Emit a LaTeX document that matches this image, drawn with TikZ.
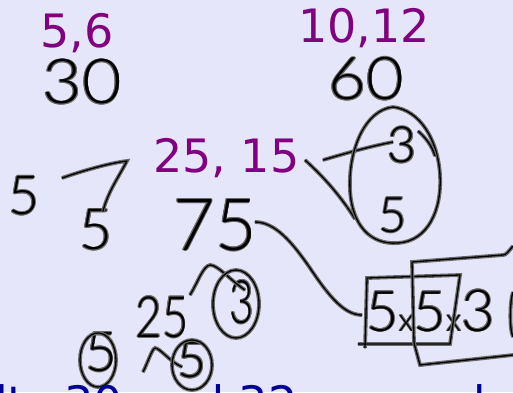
\documentclass[tikz,border=0pt]{standalone}
\usepackage{fontspec}
\setmainfont{DejaVu Sans}
\newfontfamily\inkfont{Lato Light}
\definecolor{boardbg}{RGB}{230,230,250}
\definecolor{pairpurple}{RGB}{128,0,128}
\definecolor{notenavy}{RGB}{0,0,150}
\definecolor{inkhalo}{RGB}{105,105,105}
\newcommand\fsz[1]{\fontsize{#1}{#1}\selectfont}
\newcommand\halocopy[3]{\makebox[0pt][l]{\kern#1\raisebox{#2}{#3}}}
\newcommand\inkt[1]{\makebox[0pt][l]{\color{inkhalo}%
  \halocopy{0.9pt}{0pt}{#1}\halocopy{-0.9pt}{0pt}{#1}%
  \halocopy{0pt}{0.9pt}{#1}\halocopy{0pt}{-0.9pt}{#1}%
  \halocopy{0.65pt}{0.65pt}{#1}\halocopy{-0.65pt}{0.65pt}{#1}%
  \halocopy{0.65pt}{-0.65pt}{#1}\halocopy{-0.65pt}{-0.65pt}{#1}}#1}

\begin{document}
\begin{tikzpicture}[x=1pt, y=-1pt,
  ink/.style={line width=1.3pt, line cap=round, line join=round,
    preaction={draw=inkhalo, line width=3.8pt}},
  hand/.style={inner sep=0pt, text=black, font=\inkfont\fsz{#1}},
  pairlabel/.style={inner sep=0pt, anchor=base west, text=pairpurple, font=\fsz{46}}]
  \useasboundingbox (0,0) rectangle (513,392);
  \fill[boardbg] (0,0) rectangle (513,392);
  \clip (0,0) rectangle (513,392);

  \node[pairlabel] (p56) at (40,47) {5,6};
  \node[pairlabel] (p1012) at (298,42) {10,12};
  \node[pairlabel] (p2515) at (153,172) {25, 15};

  \node[hand=62, xscale=1.1] (n30) at (82,82) {\inkt{30}};
  \node[hand=59, xscale=1.1] (n60) at (366,79) {\inkt{60}};
  \node[hand=54] (n5l) at (24,196) {\inkt{5}};
  \node[hand=57] (n5m) at (96,230) {\inkt{5}};
  \node[hand=72] (n75) at (215,225) {\inkt{75}};
  \node[hand=50] (n3o) at (402,145) {\inkt{3}};
  \node[hand=49] (n5o) at (393,215) {\inkt{5}};
  \node[hand=57, xscale=0.8] (n25) at (162,317) {\inkt{25}};
  \node[hand=60, xscale=0.7] (n3c) at (242,302) {\inkt{3}};
  \node[hand=55] (n5c) at (101,352) {\inkt{5}};
  \node[hand=50] (n5d) at (192,360) {\inkt{5}};
  \node[hand=56, anchor=base west] (prod) at (366,331)
    {\inkt{5}{\fsz{32}\inkt{x}}\inkt{5}{\fsz{32}\inkt{x}}{\fsz{58}\inkt{3}}};

  \draw[ink] (62,178) .. controls (85,170) and (110,163) .. (127,161)
    .. controls (118,178) and (108,192) .. (103,211);
  \draw[ink] (323,160) .. controls (350,152) and (372,146) .. (393,142);
  \draw[ink] (305,160) .. controls (325,178) and (342,198) .. (355,219);
  \draw[ink] (393,107) .. controls (365,110) and (348,150) .. (350,190)
    .. controls (352,225) and (370,245) .. (398,243)
    .. controls (428,241) and (442,210) .. (440,175)
    .. controls (438,140) and (420,110) .. (393,107);
  \draw[ink] (418,131) .. controls (426,138) and (432,146) .. (435,156);

  \draw[ink] (255,222) .. controls (275,222) and (292,242) .. (310,268)
    .. controls (330,298) and (345,315) .. (362,315);
  \draw[ink] (358,344) -- (450,344) -- (460,275) -- (367,278) -- (365,348);
  \draw[ink] (513,246) .. controls (508,252) and (506,255) .. (503,255)
    -- (412,262) -- (414,343) -- (420,365) -- (513,355);
  \draw[ink] (513,292) .. controls (510,300) and (509,328) .. (513,337);

  \draw[ink] (190,295) .. controls (198,282) and (203,266) .. (210,265)
    .. controls (218,265) and (230,280) .. (245,290);
  \draw[ink] (236,304) ellipse [x radius=23pt, y radius=34pt];
  \draw[ink] (143,372) .. controls (148,362) and (152,349) .. (155,348)
    .. controls (160,348) and (170,362) .. (182,367);
  \draw[ink] (98,360) ellipse [x radius=18pt, y radius=27pt];
  \draw[ink] (192,365) ellipse [x radius=20pt, y radius=25pt];

  \node[anchor=base west, inner sep=0pt, text=notenavy, font=\fsz{46}] (note)
    at (-5,419) {lts 30 and 32 are on both};
\end{tikzpicture}
\end{document}
